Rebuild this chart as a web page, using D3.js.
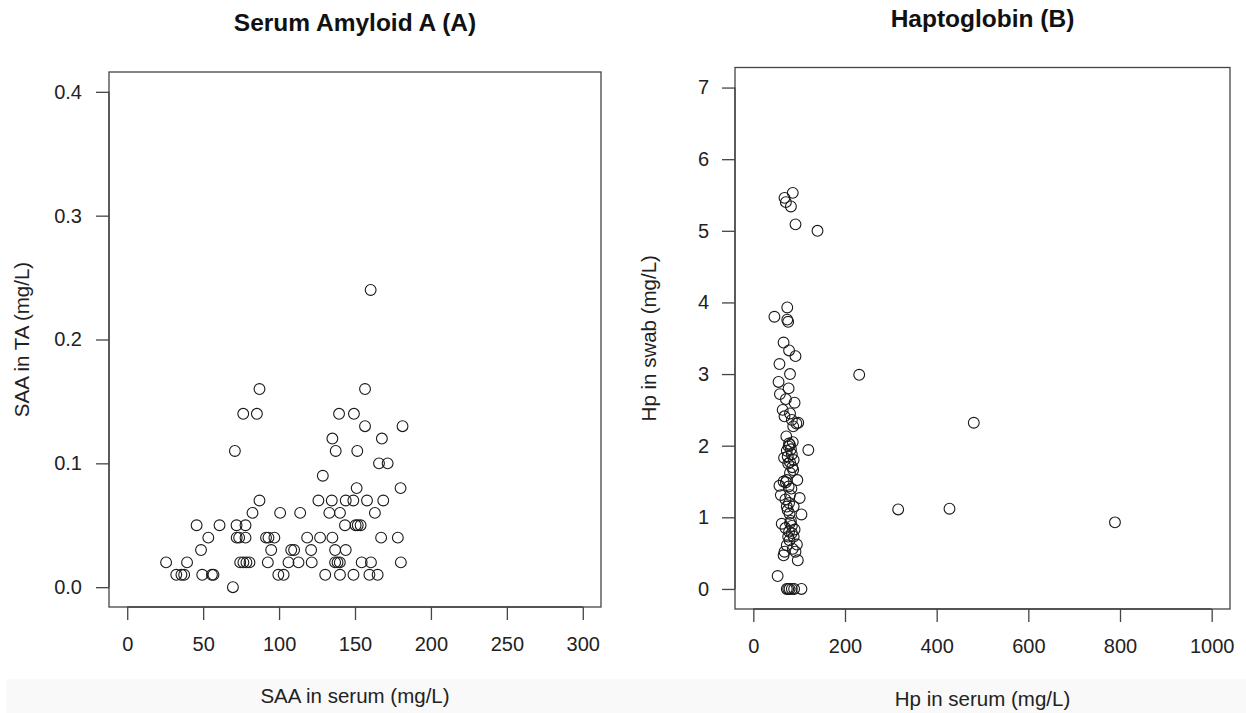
<!DOCTYPE html>
<html>
<head>
<meta charset="utf-8">
<script src="https://cdn.jsdelivr.net/npm/d3@7"></script>
<style>
  body { margin: 0; background: #fff; }
  svg { font-family: "Liberation Sans", Arial, sans-serif; }
</style>
</head>
<body>
<svg id="chart" width="1246" height="713"></svg>
<script>
// Panel A: Serum Amyloid A
const saaSerum = [
  160.3,
  87.1, 156.6,
  76.4, 85.4, 139.5, 149.3,
  156.6, 181.3,
  135.1, 167.7,
  70.9, 137.3, 151.5,
  165.8, 171.5,
  128.8,
  151.1, 180.0,
  87.1, 125.9, 134.7, 143.9, 148.9, 157.9, 168.6,
  82.5, 100.7, 113.9, 133.1, 140.1, 163.1,
  45.7, 60.8, 72.0, 77.9, 143.4, 150.4, 151.8, 153.7,
  53.4, 72.1, 73.7, 77.9, 91.4, 93.0, 96.9, 118.5, 127.0, 135.1, 167.2, 178.2,
  48.6, 94.8, 108.0, 109.9, 121.1, 136.9, 143.9,
  25.6, 39.4, 74.4, 76.5, 78.5, 80.5, 92.6, 106.2, 112.8, 121.5, 136.9, 138.5, 140.0, 154.4, 160.5, 180.2,
  32.3, 35.7, 37.5, 49.4, 55.8, 56.8, 99.5, 103.0, 130.4, 140.1, 149.0, 159.5, 164.9,
  69.6
];
const saaTA = [
  0.24,
  0.16, 0.16,
  0.14, 0.14, 0.14, 0.14,
  0.13, 0.13,
  0.12, 0.12,
  0.11, 0.11, 0.11,
  0.10, 0.10,
  0.09,
  0.08, 0.08,
  0.07, 0.07, 0.07, 0.07, 0.07, 0.07, 0.07,
  0.06, 0.06, 0.06, 0.06, 0.06, 0.06,
  0.05, 0.05, 0.05, 0.05, 0.05, 0.05, 0.05, 0.05,
  0.04, 0.04, 0.04, 0.04, 0.04, 0.04, 0.04, 0.04, 0.04, 0.04, 0.04, 0.04,
  0.03, 0.03, 0.03, 0.03, 0.03, 0.03, 0.03,
  0.02, 0.02, 0.02, 0.02, 0.02, 0.02, 0.02, 0.02, 0.02, 0.02, 0.02, 0.02, 0.02, 0.02, 0.02, 0.02,
  0.01, 0.01, 0.01, 0.01, 0.01, 0.01, 0.01, 0.01, 0.01, 0.01, 0.01, 0.01, 0.01,
  0.00
];
const saaXTicks = [0, 50, 100, 150, 200, 250, 300];
const saaYTicks = [0, 0.1, 0.2, 0.3, 0.4];

// Panel B: Haptoglobin
const hpSerum = [
  86, 68, 71, 82, 92, 140,
  74, 46, 74, 76, 66, 78, 92, 57, 80, 231,
  55, 77, 58, 71, 90, 64, 80, 68, 84, 98, 94, 87,
  72, 78, 77, 80, 86, 120, 73, 82, 84, 67, 88, 80, 75, 76,
  87, 80, 85, 73, 96, 66, 71, 57, 77, 83,
  60, 80, 101, 70, 78, 73, 88, 75, 105, 79,
  62, 80, 84, 82, 70, 90, 78, 84, 76, 88, 79,
  73, 95, 86, 68, 92, 66, 97, 53,
  73, 76, 79, 84, 89, 105,
  316, 428, 481, 789
];
const hpSwab = [
  5.53, 5.46, 5.40, 5.34, 5.09, 5.00,
  3.93, 3.80, 3.76, 3.73, 3.44, 3.33, 3.25, 3.14, 3.00, 2.99,
  2.89, 2.80, 2.72, 2.65, 2.60, 2.50, 2.45, 2.41, 2.36, 2.32, 2.31, 2.27,
  2.13, 2.03, 1.99, 2.01, 2.05, 1.94, 1.93, 1.95, 1.88, 1.83, 1.80, 1.77, 1.85, 1.75,
  1.66, 1.62, 1.70, 1.52, 1.52, 1.50, 1.49, 1.44, 1.43, 1.40,
  1.31, 1.31, 1.27, 1.25, 1.20, 1.15, 1.15, 1.10, 1.04, 1.05,
  0.91, 0.92, 0.88, 0.95, 0.85, 0.83, 0.80, 0.78, 0.73, 0.73, 0.68,
  0.61, 0.62, 0.56, 0.52, 0.52, 0.47, 0.40, 0.18,
  0, 0, 0, 0, 0, 0,
  1.11, 1.12, 2.32, 0.93
];
const hpXTicks = [0, 200, 400, 600, 800, 1000];
const hpYTicks = [0, 1, 2, 3, 4, 5, 6, 7];

const svg = d3.select('#chart');
const ink = '#222';
const lineCol = '#444';

// faint grey strip at the very bottom of the screenshot
svg.append('rect')
  .attr('x', 6).attr('y', 679)
  .attr('width', 1240).attr('height', 34)
  .attr('fill', '#f9f9f9');

function drawPanel(opts) {
  const g = svg.append('g');
  const x = d3.scaleLinear().domain(opts.xDomain).range([opts.left, opts.right]);
  const y = d3.scaleLinear().domain(opts.yDomain).range([opts.bottom, opts.top]);

  g.append('rect')
    .attr('x', opts.left).attr('y', opts.top)
    .attr('width', opts.right - opts.left)
    .attr('height', opts.bottom - opts.top)
    .attr('fill', 'none')
    .attr('stroke', lineCol)
    .attr('stroke-width', 1.3);

  const xAxis = g.append('g')
    .attr('transform', `translate(0,${opts.bottom})`)
    .call(d3.axisBottom(x).tickValues(opts.xTicks).tickFormat(d3.format('d')).tickSize(13).tickSizeOuter(0).tickPadding(17));
  const yAxis = g.append('g')
    .attr('transform', `translate(${opts.left},0)`)
    .call(d3.axisLeft(y).tickValues(opts.yTicks).tickFormat(opts.yFormat).tickSize(13).tickSizeOuter(0).tickPadding(opts.yPad));

  [xAxis, yAxis].forEach(a => {
    a.select('.domain').attr('stroke', lineCol).attr('stroke-width', 1.3);
    a.selectAll('.tick line').attr('stroke', lineCol).attr('stroke-width', 1.3);
    a.selectAll('.tick text')
      .attr('fill', ink)
      .style('font-size', '20px')
      .style('font-family', '"Liberation Sans", Arial, sans-serif');
  });
  // R draws the axis line only between first and last tick
  xAxis.select('.domain').attr('d', `M${x(opts.xTicks[0])},0H${x(opts.xTicks[opts.xTicks.length - 1])}`);
  yAxis.select('.domain').attr('d', `M0,${y(opts.yTicks[0])}V${y(opts.yTicks[opts.yTicks.length - 1])}`);

  g.selectAll('circle')
    .data(d3.zip(opts.xs, opts.ys))
    .enter()
    .append('circle')
    .attr('cx', d => x(d[0]))
    .attr('cy', d => y(d[1]))
    .attr('r', 5.4)
    .attr('fill', 'none')
    .attr('stroke', '#1a1a1a')
    .attr('stroke-width', 1.1);

  const cx = (opts.left + opts.right) / 2;
  g.append('text')
    .attr('x', cx).attr('y', opts.titleY)
    .attr('text-anchor', 'middle')
    .attr('font-weight', 'bold')
    .attr('font-size', 24.5)
    .attr('fill', '#111')
    .text(opts.title);
  g.append('text')
    .attr('x', cx).attr('y', opts.xLabelY)
    .attr('text-anchor', 'middle')
    .attr('font-size', 20.5)
    .attr('fill', ink)
    .text(opts.xLabel);
  g.append('text')
    .attr('transform', `translate(${opts.yLabelX},${(opts.top + opts.bottom) / 2}) rotate(-90)`)
    .attr('text-anchor', 'middle')
    .attr('font-size', 20.5)
    .attr('fill', ink)
    .text(opts.yLabel);
}

drawPanel({
  left: 109, right: 601, top: 72, bottom: 607,
  xDomain: [-12, 312], yDomain: [-0.016, 0.416],
  xTicks: saaXTicks, yTicks: saaYTicks, yFormat: d3.format('.1f'), yPad: 14,
  xs: saaSerum, ys: saaTA,
  title: 'Serum Amyloid A (A)', titleY: 31,
  xLabel: 'SAA in serum (mg/L)', xLabelY: 703,
  yLabel: 'SAA in TA (mg/L)', yLabelX: 29
});

drawPanel({
  left: 735, right: 1230, top: 67.5, bottom: 609,
  xDomain: [-40, 1040], yDomain: [-0.28, 7.28],
  xTicks: hpXTicks, yTicks: hpYTicks, yFormat: d3.format('d'), yPad: 13,
  xs: hpSerum, ys: hpSwab,
  title: 'Haptoglobin (B)', titleY: 27,
  xLabel: 'Hp in serum (mg/L)', xLabelY: 706,
  yLabel: 'Hp in swab (mg/L)', yLabelX: 656
});
</script>
</body>
</html>
